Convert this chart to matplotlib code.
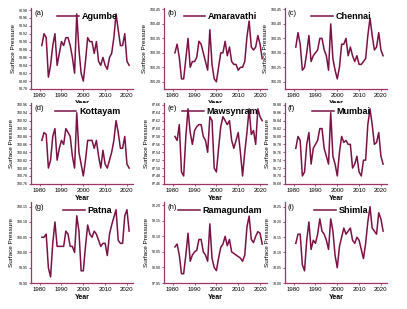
import matplotlib
matplotlib.use("Agg")
import matplotlib.pyplot as plt
import numpy as np

plt.rcParams['font.family'] = ['Liberation Sans', 'DejaVu Sans']

years = list(range(1981, 2022))

agumbe = [98.89, 98.92, 98.91, 98.81, 98.84, 98.89, 98.92, 98.84, 98.87, 98.90,
          98.89, 98.91, 98.91, 98.89, 98.86, 98.82, 98.97, 98.88, 98.82, 98.80,
          98.85, 98.91, 98.90, 98.90, 98.87, 98.90, 98.85, 98.84, 98.86, 98.84,
          98.83, 98.86, 98.87, 98.91, 98.97, 98.93, 98.89, 98.89, 98.92, 98.85, 98.84]
amaravathi = [100.30, 100.33, 100.285, 100.21, 100.21, 100.28, 100.35, 100.25, 100.27, 100.27,
              100.285, 100.34, 100.33, 100.30, 100.27, 100.24, 100.38, 100.26, 100.21, 100.20,
              100.25, 100.30, 100.30, 100.34, 100.29, 100.32, 100.27, 100.26, 100.26, 100.24,
              100.25, 100.25, 100.27, 100.355, 100.41, 100.32, 100.31, 100.32, 100.36, 100.33, 100.28]
chennai = [100.32, 100.37, 100.33, 100.24, 100.25, 100.30, 100.36, 100.27, 100.29, 100.30,
           100.31, 100.35, 100.35, 100.31, 100.29, 100.24, 100.40, 100.28, 100.24, 100.21,
           100.25, 100.33, 100.33, 100.35, 100.29, 100.32, 100.29, 100.27, 100.29, 100.26,
           100.26, 100.27, 100.28, 100.36, 100.42, 100.36, 100.31, 100.32, 100.37, 100.31, 100.29]
kottayam = [100.87, 100.89, 100.885, 100.80, 100.82, 100.88, 100.90, 100.82, 100.85, 100.87,
            100.86, 100.90, 100.89, 100.88, 100.83, 100.80, 100.94, 100.84, 100.81, 100.78,
            100.82, 100.87, 100.87, 100.87, 100.85, 100.87, 100.83, 100.80, 100.845, 100.81,
            100.80, 100.82, 100.84, 100.87, 100.92, 100.89, 100.85, 100.85, 100.88, 100.81, 100.80]
mawsynram = [87.58, 87.57, 87.61, 87.49, 87.48, 87.58, 87.65, 87.59, 87.56, 87.595,
             87.605, 87.61, 87.61, 87.58, 87.57, 87.54, 87.63, 87.62, 87.50, 87.49,
             87.55, 87.605, 87.63, 87.62, 87.61, 87.62, 87.57, 87.55, 87.57, 87.59,
             87.54, 87.48, 87.54, 87.59, 87.65, 87.585, 87.595, 87.56, 87.65, 87.63, 87.62]
mumbai = [99.77, 99.80, 99.79, 99.70, 99.71, 99.78, 99.81, 99.73, 99.77, 99.78,
          99.79, 99.82, 99.82, 99.77, 99.75, 99.73, 99.86, 99.75, 99.73, 99.70,
          99.76, 99.80, 99.785, 99.79, 99.78, 99.78, 99.72, 99.73, 99.75, 99.71,
          99.70, 99.74, 99.74, 99.83, 99.87, 99.83, 99.78, 99.785, 99.81, 99.75, 99.73]
patna = [100.05, 100.05, 100.06, 99.95, 99.92, 100.03, 100.10, 100.02, 100.02, 100.02,
         100.02, 100.07, 100.06, 100.02, 100.02, 100.00, 100.12, 100.07, 99.94, 99.94,
         100.02, 100.09, 100.06, 100.05, 100.07, 100.06, 100.04, 100.02, 100.03, 100.03,
         99.99, 100.06, 100.09, 100.115, 100.14, 100.04, 100.03, 100.03, 100.12, 100.14, 100.07]
ramagundam = [98.066, 98.075, 98.04, 97.98, 97.98, 98.04, 98.11, 98.02, 98.04, 98.05,
              98.055, 98.09, 98.09, 98.05, 98.04, 98.02, 98.14, 98.03, 98.00, 97.99,
              98.03, 98.065, 98.075, 98.10, 98.07, 98.09, 98.05, 98.045, 98.04, 98.035,
              98.03, 98.02, 98.04, 98.13, 98.165, 98.09, 98.08, 98.10, 98.115, 98.11, 98.075]
shimla = [78.13, 78.16, 78.16, 78.06, 78.04, 78.14, 78.20, 78.11, 78.14, 78.13,
          78.16, 78.21, 78.17, 78.16, 78.14, 78.11, 78.21, 78.17, 78.09, 78.05,
          78.12, 78.15, 78.18, 78.16, 78.17, 78.18, 78.14, 78.13, 78.15, 78.14,
          78.11, 78.08, 78.13, 78.20, 78.25, 78.18, 78.17, 78.16, 78.23, 78.21, 78.17]

stations = ["Agumbe", "Amaravathi", "Chennai", "Kottayam", "Mawsynram",
            "Mumbai", "Patna", "Ramagundam", "Shimla"]
letters = ["(a)", "(b)", "(c)", "(d)", "(e)", "(f)", "(g)", "(h)", "(i)"]
series = [agumbe, amaravathi, chennai, kottayam, mawsynram,
          mumbai, patna, ramagundam, shimla]
# y ticks (start, stop, step) and limits for each panel
yticks = [(98.78, 98.98, 0.02), (100.20, 100.45, 0.05), (100.20, 100.45, 0.05),
          (100.76, 100.96, 0.02), (87.46, 87.66, 0.02), (99.68, 99.88, 0.02),
          (99.90, 100.15, 0.05), (97.95, 98.20, 0.05), (78.00, 78.25, 0.05)]
ylims = [(98.78, 98.985), (100.175, 100.455), (100.175, 100.455),
         (100.76, 100.965), (87.46, 87.665), (99.68, 99.885),
         (99.90, 100.165), (97.95, 98.21), (78.00, 78.265)]

line_col = "#7b1145"
spine_col = "#9c3468"

fig = plt.figure(figsize=(4.07, 3.09), dpi=100)
lefts = [0.076, 0.403, 0.700]
bottoms = [0.712, 0.405, 0.084]
w, h = 0.252, 0.262

for k in range(9):
    r, c = divmod(k, 3)
    ax = fig.add_axes([lefts[c], bottoms[r], w, h])
    ax.plot(years, series[k], color=line_col, lw=1.1, label=stations[k])
    t0, t1, st = yticks[k]
    ax.set_yticks(np.round(np.arange(t0, t1 + st / 2, st), 3))
    ax.yaxis.set_major_formatter(matplotlib.ticker.FormatStrFormatter('%.2f'))
    ax.set_ylim(*ylims[k])
    ax.set_xlim(1976, 2023)
    ax.set_xticks([1980, 1990, 2000, 2010, 2020])
    for s in ["top", "right"]:
        ax.spines[s].set_visible(False)
    for s in ["left", "bottom"]:
        ax.spines[s].set_color(spine_col)
        ax.spines[s].set_linewidth(0.9)
    ax.tick_params(axis='y', labelsize=2.6, length=1.5, width=0.6,
                   color=spine_col, pad=1)
    ax.tick_params(axis='x', labelsize=4.4, length=1.5, width=0.6,
                   color=spine_col, pad=1.5)
    ax.set_ylabel("Surface Pressure", fontsize=4.6, labelpad=1.5)
    ax.set_xlabel("Year", fontsize=5, fontweight='bold', labelpad=1.5)
    ax.text(0.03, 0.98, letters[k], transform=ax.transAxes, fontsize=5.5,
            va='top', ha='left')
    ax.legend(loc='upper center', bbox_to_anchor=(0.55, 1.05), frameon=False,
              handlelength=2.4, handletextpad=0.3,
              prop={'size': 6.5, 'weight': 'bold'})

fig.savefig("out.png", dpi=100)
